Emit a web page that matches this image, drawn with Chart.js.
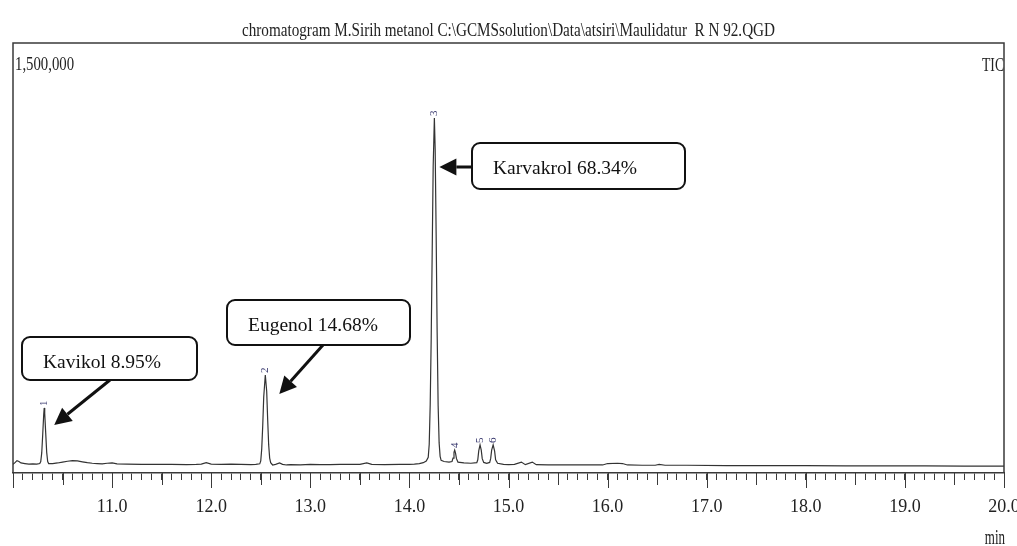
<!DOCTYPE html>
<html>
<head>
<meta charset="utf-8">
<script src="https://cdn.jsdelivr.net/npm/chart.js@4.4.1/dist/chart.umd.min.js"></script>
<style>
  html, body { margin: 0; padding: 0; background: #fff; }
  #wrap { width: 1017px; height: 546px; position: relative; }
  canvas { display: block; }
</style>
</head>
<body>
<div id="wrap"><canvas id="ticChart" width="1017" height="546"></canvas></div>
<script>
// retention time (min) and TIC counts
const retentionTimes = [
  10.00, 10.02, 10.04, 10.06, 10.08, 10.12, 10.16, 10.20, 10.24, 10.27,
  10.28, 10.29, 10.30, 10.31, 10.315, 10.32, 10.33, 10.34, 10.35, 10.36,
  10.40, 10.45, 10.50, 10.55, 10.60, 10.65, 10.70, 10.75, 10.80, 10.85,
  10.90, 10.95, 11.00, 11.05, 11.15, 11.30, 11.45, 11.60, 11.75, 11.85,
  11.90, 11.95, 12.00, 12.10, 12.20, 12.30, 12.40, 12.45, 12.49, 12.50,
  12.51, 12.52, 12.53, 12.546, 12.56, 12.57, 12.58, 12.59, 12.60, 12.62,
  12.65, 12.69, 12.72, 12.76, 12.80, 12.90, 13.00, 13.10, 13.20, 13.30,
  13.40, 13.50, 13.57, 13.62, 13.75, 13.90, 14.00, 14.05, 14.10, 14.14,
  14.17, 14.19, 14.20, 14.21, 14.22, 14.23, 14.24, 14.252, 14.26, 14.27,
  14.28, 14.29, 14.30, 14.31, 14.32, 14.35, 14.40, 14.43, 14.44, 14.45,
  14.457, 14.465, 14.475, 14.49, 14.55, 14.62, 14.68, 14.69, 14.70, 14.713,
  14.725, 14.735, 14.75, 14.78, 14.81, 14.82, 14.83, 14.845, 14.86, 14.87,
  14.89, 14.95, 15.00, 15.06, 15.13, 15.17, 15.24, 15.28, 15.40, 15.60,
  15.80, 15.95, 16.00, 16.10, 16.15, 16.20, 16.35, 16.48, 16.52, 16.58,
  16.80, 17.20, 17.60, 18.00, 18.40, 18.80, 19.20, 19.60, 20.00
];
const ticCounts = [
  30000, 36000, 43000, 40000, 35000, 33000, 31000, 32000, 31000, 33000,
  40000, 70000, 135000, 205000, 227000, 208000, 140000, 72000, 40000, 33000,
  33000, 35000, 38000, 41000, 43000, 42000, 39000, 36000, 34000, 33000,
  32000, 34000, 35000, 32000, 31000, 30000, 30000, 30000, 29000, 30000,
  31000, 36000, 31000, 30000, 31000, 30000, 29000, 30000, 32000, 42000,
  85000, 165000, 265000, 342000, 285000, 185000, 98000, 52000, 36000, 28000,
  30000, 35000, 30000, 28000, 29000, 28000, 30000, 29000, 29000, 30000,
  30000, 30000, 35000, 30000, 29000, 30000, 30000, 31000, 33000, 36000,
  42000, 55000, 100000, 240000, 470000, 770000, 1070000, 1238000, 1130000, 830000,
  490000, 235000, 105000, 58000, 44000, 40000, 38000, 40000, 52000, 72000,
  80000, 70000, 50000, 38000, 35000, 34000, 36000, 46000, 78000, 98000,
  80000, 50000, 37000, 34000, 37000, 50000, 80000, 98000, 76000, 46000,
  34000, 30000, 29000, 30000, 38000, 29000, 38000, 29000, 28000, 28000,
  28000, 28000, 33000, 34000, 33000, 28000, 27000, 27000, 30000, 27000,
  27000, 26000, 26000, 26000, 25000, 25000, 25000, 24000, 24000
];

// integrated peaks (number, apex time, apex counts)
const peakNumbers = ["1", "2", "3", "4", "5", "6"];
const peakTimes = [10.315, 12.546, 14.252, 14.457, 14.713, 14.845];
const peakCounts = [227000, 342000, 1238000, 80000, 98000, 98000];

// callout texts and the peak each one points at
const compoundNames = ["Kavikol 8.95%", "Eugenol 14.68%", "Karvakrol 68.34%"];
const compoundPeaks = [0, 1, 2];

// x tick labels
const xTickValues = [11, 12, 13, 14, 15, 16, 17, 18, 19, 20];
const xTickLabels = ["11.0", "12.0", "13.0", "14.0", "15.0", "16.0", "17.0", "18.0", "19.0", "20.0"];

const titleText = "chromatogram M.Sirih metanol C:\\GCMSsolution\\Data\\atsiri\\Maulidatur  R N 92.QGD";
const yMaxLabel = "1,500,000";

// callout box layout (pixels) and arrow tip offset from the peak apex
const calloutLayout = [
  { box: [22, 337, 175, 43], tail: [110, 380], tipOffset: [10, 17] },
  { box: [227, 300, 183, 45], tail: [323, 345], tipOffset: [14, 19] },
  { box: [472, 143, 213, 46], tail: [472, 167], tipOffset: [5, 49] },
];

const SERIF = "'Liberation Serif', 'Times New Roman', serif";

function condensedText(ctx, text, x, y, size, sx, align) {
  ctx.save();
  ctx.font = size + "px " + SERIF;
  ctx.textBaseline = "alphabetic";
  ctx.textAlign = "left";
  const w = ctx.measureText(text).width * sx;
  let left = x;
  if (align === "center") left = x - w / 2;
  if (align === "right") left = x - w;
  ctx.translate(left, y);
  ctx.scale(sx, 1);
  ctx.fillText(text, 0, 0);
  ctx.restore();
}

function arrow(ctx, x1, y1, x2, y2) {
  const ang = Math.atan2(y2 - y1, x2 - x1);
  const headLen = 17, headHalf = 8.5;
  const bx = x2 - Math.cos(ang) * headLen;
  const by = y2 - Math.sin(ang) * headLen;
  ctx.beginPath();
  ctx.moveTo(x1, y1);
  ctx.lineTo(bx, by);
  ctx.lineWidth = 3;
  ctx.stroke();
  ctx.beginPath();
  ctx.moveTo(x2, y2);
  ctx.lineTo(bx + Math.sin(ang) * headHalf, by - Math.cos(ang) * headHalf);
  ctx.lineTo(bx - Math.sin(ang) * headHalf, by + Math.cos(ang) * headHalf);
  ctx.closePath();
  ctx.fill();
}

const chromPlugin = {
  id: "chromDecor",
  afterDraw(chart) {
    const { ctx, chartArea } = chart;
    const xs = chart.scales.x;
    const ys = chart.scales.y;
    const L = chartArea.left, R = chartArea.right, T = chartArea.top, B = chartArea.bottom;

    ctx.save();
    // frame
    ctx.strokeStyle = "#3a3a3a";
    ctx.lineWidth = 1.5;
    ctx.beginPath();
    ctx.moveTo(L, B);
    ctx.lineTo(L, T);
    ctx.lineTo(R, T);
    ctx.lineTo(R, B);
    ctx.stroke();

    // longer ticks at half and whole minutes
    ctx.lineWidth = 1;
    xs.ticks.forEach(t => {
      const v = t.value;
      const whole = Math.abs(v - Math.round(v)) < 1e-6;
      const half = Math.abs(v * 2 - Math.round(v * 2)) < 1e-6;
      if (!half) return;
      const px = Math.round(xs.getPixelForValue(v)) + 0.5;
      ctx.beginPath();
      ctx.moveTo(px, B);
      ctx.lineTo(px, B + (whole ? 15 : 12));
      ctx.stroke();
    });

    // texts of the instrument plot
    ctx.fillStyle = "#222";
    ctx.save();
    ctx.font = "18px " + SERIF;
    const tw = ctx.measureText(titleText).width;
    ctx.restore();
    condensedText(ctx, titleText, 508.5, 36, 18, 533 / tw, "center");
    condensedText(ctx, yMaxLabel, L + 2, 70, 18, 0.82, "left");
    condensedText(ctx, "TIC", R, 71, 18, 0.76, "right");
    condensedText(ctx, "min", R + 1, 544, 20, 0.65, "right");

    // peak numbers, rotated
    ctx.fillStyle = "#33336a";
    ctx.font = "11px " + SERIF;
    ctx.textAlign = "left";
    ctx.textBaseline = "middle";
    peakNumbers.forEach((n, i) => {
      const px = xs.getPixelForValue(peakTimes[i]);
      const py = ys.getPixelForValue(peakCounts[i]);
      ctx.save();
      ctx.translate(px, py - 2);
      ctx.rotate(-Math.PI / 2);
      ctx.fillText(n, 0, 0);
      ctx.restore();
    });

    // callouts
    compoundNames.forEach((name, i) => {
      const lay = calloutLayout[i];
      const p = compoundPeaks[i];
      const tipX = xs.getPixelForValue(peakTimes[p]) + lay.tipOffset[0];
      const tipY = ys.getPixelForValue(peakCounts[p]) + lay.tipOffset[1];
      ctx.strokeStyle = "#111";
      ctx.fillStyle = "#111";
      arrow(ctx, lay.tail[0], lay.tail[1], tipX, tipY);

      const [bx, by, bw, bh] = lay.box;
      ctx.beginPath();
      ctx.roundRect(bx, by, bw, bh, 8);
      ctx.fillStyle = "#fff";
      ctx.fill();
      ctx.lineWidth = 2;
      ctx.strokeStyle = "#111";
      ctx.stroke();

      ctx.fillStyle = "#111";
      ctx.font = "19.5px " + SERIF;
      ctx.textAlign = "left";
      ctx.textBaseline = "alphabetic";
      ctx.fillText(name, bx + 21, by + 31);
    });
    ctx.restore();
  },
};

new Chart(document.getElementById("ticChart"), {
  type: "line",
  data: {
    datasets: [
      {
        label: "TIC",
        data: retentionTimes.map((t, i) => ({ x: t, y: ticCounts[i] })),
        borderColor: "#333",
        borderWidth: 1.2,
        pointRadius: 0,
        tension: 0,
        fill: false,
      },
    ],
  },
  options: {
    responsive: false,
    animation: false,
    devicePixelRatio: 1,
    layout: { padding: { left: 13, right: 13, top: 43, bottom: 0 }, autoPadding: false },
    plugins: {
      legend: { display: false },
      title: { display: false },
      tooltip: { enabled: false },
    },
    scales: {
      x: {
        type: "linear",
        min: 10,
        max: 20,
        afterFit(scale) {
          scale.height = 73;
          scale.paddingLeft = 0;
          scale.paddingRight = 0;
        },
        ticks: {
          stepSize: 0.1,
          autoSkip: false,
          maxTicksLimit: 500,
          maxRotation: 0,
          minRotation: 0,
          padding: 16,
          color: "#222",
          font: { family: SERIF, size: 18 },
          callback: function (value) {
            const idx = xTickValues.findIndex(v => Math.abs(v - value) < 1e-6);
            return idx >= 0 ? xTickLabels[idx] : "";
          },
        },
        grid: {
          drawOnChartArea: false,
          drawTicks: true,
          tickLength: 7,
          color: "#3a3a3a",
          lineWidth: 1,
        },
        border: { display: true, color: "#3a3a3a", width: 1.5 },
      },
      y: {
        display: false,
        min: 0,
        max: 1500000,
      },
    },
  },
  plugins: [chromPlugin],
});
</script>
</body>
</html>
